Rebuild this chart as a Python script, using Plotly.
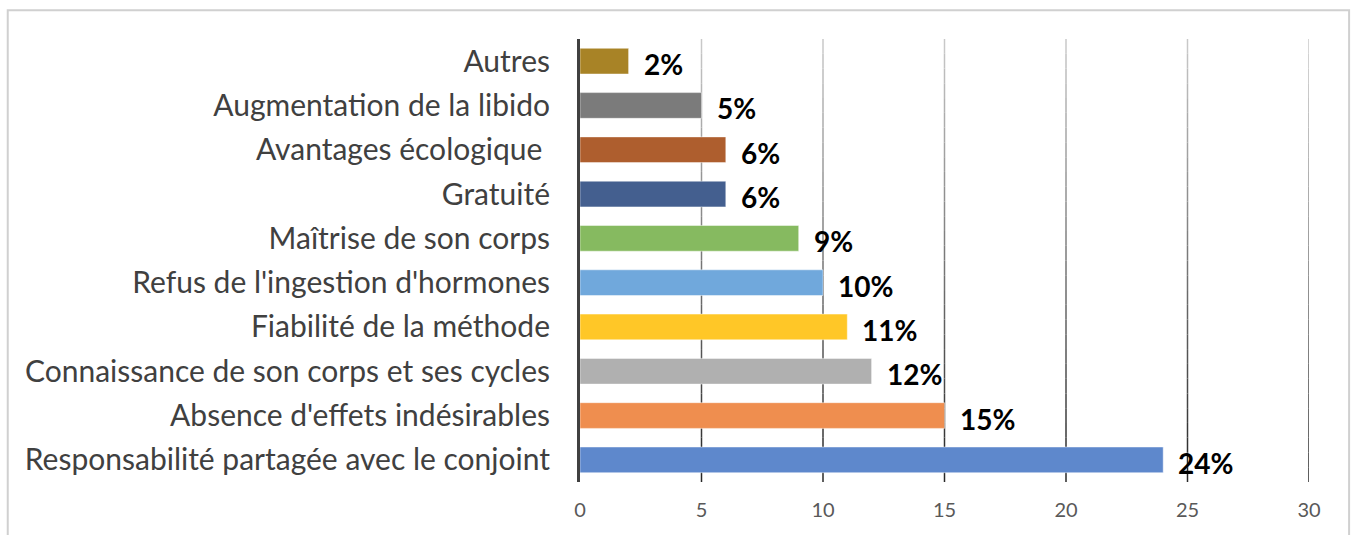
import plotly.graph_objects as go

# categories listed top to bottom as in the chart
categories = [
    "Autres",
    "Augmentation de la libido",
    "Avantages écologique ",
    "Gratuité",
    "Maîtrise de son corps",
    "Refus de l'ingestion d'hormones",
    "Fiabilité de la méthode",
    "Connaissance de son corps et ses cycles",
    "Absence d'effets indésirables",
    "Responsabilité partagée avec le conjoint",
]
values = [2, 5, 6, 6, 9, 10, 11, 12, 15, 24]
labels = ["2%", "5%", "6%", "6%", "9%", "10%", "11%", "12%", "15%", "24%"]
colors = ["#A88326", "#7B7B7B", "#AE5E2E", "#445F8F", "#86BA60",
          "#70A8DC", "#FFC727", "#B0B0B0", "#EF8E4F", "#5E88CC"]
x_ticks = [0, 5, 10, 15, 20, 25, 30]

fig = go.Figure(go.Bar(
    x=values, y=categories, orientation="h",
    marker=dict(color=colors, line=dict(color="rgba(255,255,255,0.45)", width=1)),
    width=0.58, hoverinfo="x+y",
))

# data labels to the right of each bar
for cat, v, lab in zip(categories, values, labels):
    fig.add_annotation(x=v, y=cat, text="<b>" + lab + "</b>", showarrow=False,
                       xanchor="left", xshift=13, yshift=-3,
                       font=dict(family="Lato", size=28, color="black"))

# gridlines fading from light grey (top) to near black (bottom)
n_seg = 30
for t in x_ticks[1:]:
    for i in range(n_seg):
        f = i / (n_seg - 1)
        c = int(200 - f * 160)
        fig.add_shape(type="line", xref="x", yref="paper", x0=t, x1=t,
                      y0=1 - i / n_seg, y1=1 - (i + 1) / n_seg,
                      line=dict(color=f"rgb({c},{c},{c})", width=1.5), layer="below")

# outer chart border
fig.add_shape(type="rect", xref="paper", yref="paper",
              x0=-0.785, x1=1.055, y0=-0.2, y1=1.065,
              line=dict(color="#D0D0D0", width=2), layer="below")

fig.update_xaxes(range=[0, 30], tickvals=x_ticks, showgrid=False, zeroline=False,
                 showline=False, tickfont=dict(family="Lato", size=20, color="#595959"),
                 ticks="", ticklabelstandoff=14)
fig.update_yaxes(autorange="reversed", showline=True, linecolor="#404040",
                 linewidth=3, ticks="", ticklabelstandoff=21,
                 tickfont=dict(family="Lato", size=30, color="#404040"))

fig.update_layout(
    width=1357, height=535,
    margin=dict(l=580, r=48, t=39, b=53, autoexpand=False),
    plot_bgcolor="white", paper_bgcolor="white",
    bargap=0.42, showlegend=False,
)

fig.write_html("out.html", config={"displayModeBar": False},
               post_script="document.body.style.margin='0';")
